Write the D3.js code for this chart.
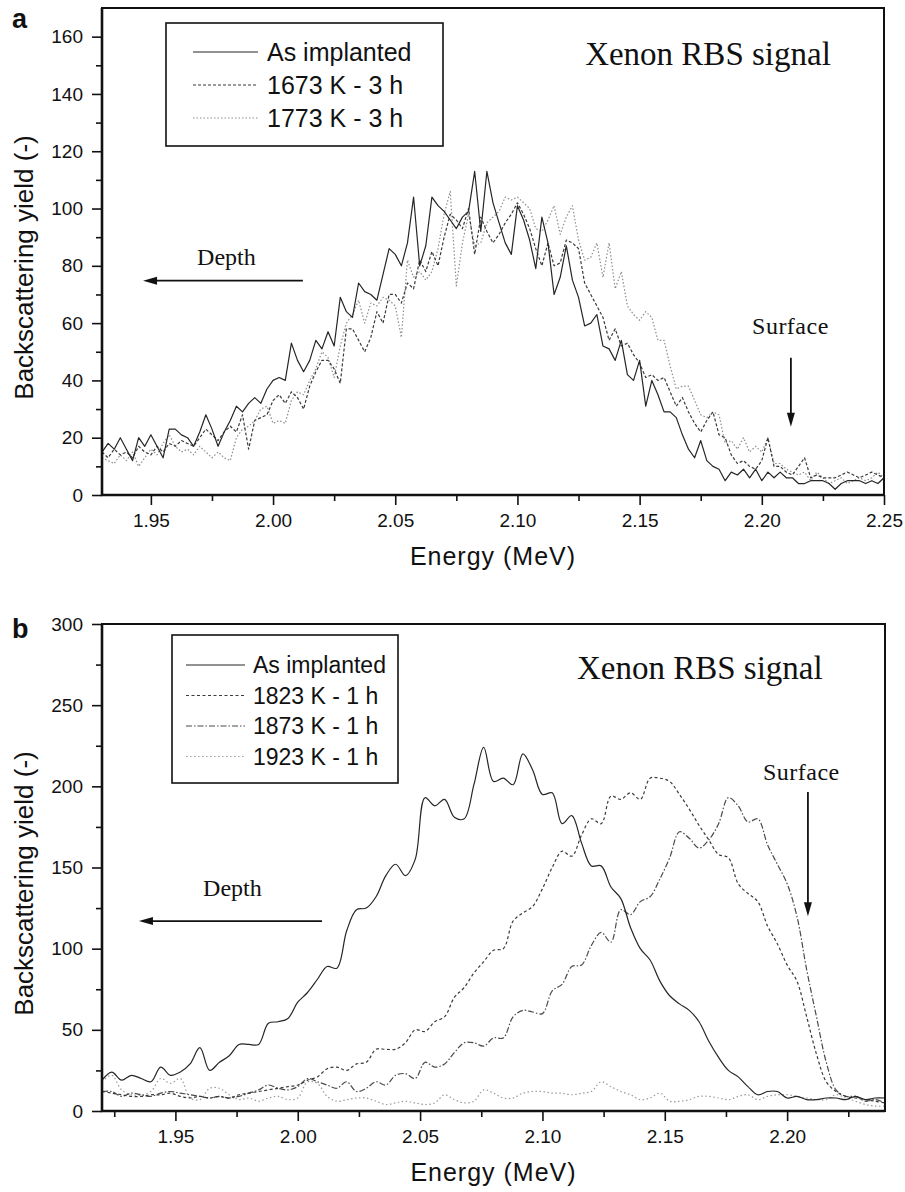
<!DOCTYPE html>
<html>
<head>
<meta charset="utf-8">
<script src="https://cdn.jsdelivr.net/npm/d3@7"></script>
<style>
  html, body { margin: 0; padding: 0; background: #fff; }
  svg { display: block; }
</style>
</head>
<body>
<svg id="chart" width="905" height="1192"></svg>
<script>
// ---- panel a : channels 1.93 .. 2.25 MeV, 0.0025 MeV apart ----
const energyA = d3.range(129).map(i => +(1.93 + i * 0.0025).toFixed(4));

const implantedA = [
  15, 18, 16, 20, 16, 12, 20, 17, 21, 17,
  13, 23, 23, 21, 20, 17, 22, 28, 23, 17,
  22, 26, 31, 29, 32, 34, 32, 37, 40, 41,
  40, 53, 47, 43, 47, 54, 51, 57, 52, 69,
  64, 62, 74, 71, 70, 68, 77, 86, 84, 80,
  88, 104, 80, 87, 104, 101, 99, 96, 93, 97,
  99, 113, 92, 113, 102, 95, 88, 84, 101, 96,
  89, 79, 97, 88, 70, 76, 87, 75, 69, 59,
  60, 63, 52, 51, 47, 54, 42, 40, 47, 31,
  40, 35, 29, 29, 27, 21, 16, 13, 19, 12,
  10, 9, 5, 8, 7, 9, 6, 9, 5, 8,
  6, 8, 6, 6, 4, 4, 5, 5, 5, 4,
  2, 4, 5, 5, 5, 4, 5, 4, 6
];
const k1673 = [
  15, 13, 16, 14, 15, 13, 17, 15, 14, 17,
  15, 18, 17, 19, 18, 17, 20, 23, 21, 19,
  22, 24, 22, 28, 16, 26, 27, 28, 33, 35,
  32, 36, 34, 30, 38, 43, 47, 47, 44, 39,
  58, 58, 54, 50, 55, 64, 60, 70, 70, 67,
  74, 72, 82, 78, 85, 80, 90, 98, 96, 93,
  100, 84, 97, 92, 88, 91, 95, 98, 102, 98,
  93, 86, 80, 88, 80, 81, 89, 88, 86, 74,
  70, 66, 62, 54, 58, 52, 53, 49, 46, 41,
  42, 40, 41, 36, 31, 34, 29, 25, 22, 26,
  29, 21, 20, 14, 11, 12, 10, 9, 12, 20,
  10, 10, 8, 7, 10, 13, 6, 7, 6, 6,
  6, 7, 8, 7, 6, 7, 8, 7, 6
];
const k1773 = [
  13, 12, 11, 14, 12, 15, 10, 13, 16, 14,
  18, 21, 17, 15, 16, 14, 17, 15, 13, 15,
  13, 12, 20, 23, 24, 26, 30, 31, 25, 26,
  25, 33, 36, 35, 40, 44, 50, 48, 41, 52,
  60, 63, 68, 60, 67, 66, 69, 68, 66, 55,
  82, 76, 78, 75, 78, 86, 98, 106, 73, 88,
  98, 87, 88, 95, 97, 99, 104, 103, 104, 102,
  100, 93, 92, 96, 101, 91, 97, 101, 89, 82,
  83, 88, 76, 88, 72, 78, 66, 63, 61, 64,
  62, 54, 54, 45, 37, 38, 38, 33, 28, 27,
  29, 28, 18, 19, 16, 20, 15, 17, 15, 20,
  11, 11, 9, 8, 7, 8, 5, 8, 6, 4,
  5, 6, 4, 5, 6, 5, 6, 8, 6
];

// ---- panel b : channels 1.92 .. 2.24 MeV, 0.004 MeV apart ----
const energyB = d3.range(81).map(i => +(1.92 + i * 0.004).toFixed(4));

const implantedB = [
  19, 24, 19, 22, 20, 18, 27, 22, 24, 29,
  39, 25, 30, 34, 41, 41, 41, 54, 55, 57,
  67, 73, 81, 89, 88, 111, 124, 125, 132, 145,
  152, 145, 155, 193, 188, 192, 181, 180, 201, 224,
  203, 205, 201, 220, 210, 195, 196, 177, 182, 165,
  151, 151, 138, 131, 113, 100, 93, 80, 71, 66,
  62, 55, 43, 33, 25, 21, 15, 10, 12, 12,
  8, 9, 7, 7, 8, 8, 7, 9, 7, 8, 8
];
const k1823 = [
  12, 11, 10, 9, 9, 10, 10, 11, 9, 8,
  9, 8, 9, 8, 10, 11, 12, 13, 14, 15,
  16, 19, 21, 26, 27, 25, 29, 30, 38, 38,
  38, 42, 50, 49, 55, 58, 70, 76, 85, 92,
  99, 100, 117, 122, 126, 137, 150, 160, 157, 170,
  180, 177, 194, 192, 196, 192, 205, 205, 203, 195,
  186, 176, 167, 158, 156, 140, 134, 129, 114, 103,
  90, 80, 58, 35, 18, 12, 9, 8, 7, 6, 5
];
const k1873 = [
  12, 12, 9, 11, 10, 9, 11, 12, 11, 10,
  9, 8, 9, 8, 9, 11, 13, 16, 14, 13,
  15, 20, 18, 16, 14, 18, 12, 14, 18, 16,
  22, 23, 20, 30, 27, 29, 36, 42, 42, 40,
  45, 45, 58, 62, 61, 60, 74, 78, 89, 90,
  102, 110, 104, 124, 121, 129, 132, 143, 156, 172,
  168, 162, 167, 177, 193, 188, 178, 180, 164, 152,
  140, 120, 87, 58, 30, 13, 9, 9, 6, 7, 5
];
const k1923 = [
  18, 22, 13, 10, 10, 12, 20, 17, 20, 8,
  7, 14, 14, 10, 7, 8, 6, 8, 9, 7,
  8, 18, 17, 9, 6, 7, 8, 8, 6, 4,
  5, 6, 5, 4, 5, 10, 7, 5, 6, 13,
  11, 8, 8, 11, 12, 12, 11, 11, 10, 11,
  12, 18, 15, 12, 10, 7, 8, 11, 6, 6,
  7, 9, 9, 8, 7, 9, 10, 7, 9, 10,
  10, 9, 8, 7, 7, 10, 8, 6, 4, 3, 3
];

const xTicksA = [1.95, 2.00, 2.05, 2.10, 2.15, 2.20, 2.25];
const xMinorA = [1.975, 2.025, 2.075, 2.125, 2.175, 2.225];
const yTicksA = [0, 20, 40, 60, 80, 100, 120, 140, 160];
const yMinorA = [10, 30, 50, 70, 90, 110, 130, 150];

const xTicksB = [1.95, 2.00, 2.05, 2.10, 2.15, 2.20];
const xMinorB = [1.925, 1.975, 2.025, 2.075, 2.125, 2.175, 2.225];
const yTicksB = [0, 50, 100, 150, 200, 250, 300];
const yMinorB = [25, 75, 125, 175, 225, 275];

const SANS = '"Liberation Sans", Arial, Helvetica, sans-serif';
const SERIF = '"Liberation Serif", "Times New Roman", serif';

const svg = d3.select("#chart");
svg.append("rect").attr("width", 905).attr("height", 1192).attr("fill", "#fff");

function drawPanel(p) {
  const g = svg.append("g");
  const x = d3.scaleLinear().domain(p.xDomain).range([p.left, p.right]);
  const y = d3.scaleLinear().domain(p.yDomain).range([p.bottom, p.top]);

  g.append("clipPath").attr("id", "clip-" + p.id)
    .append("rect")
    .attr("x", p.left).attr("y", p.top)
    .attr("width", p.right - p.left).attr("height", p.bottom - p.top);

  // data lines
  const plot = g.append("g").attr("clip-path", `url(#clip-${p.id})`);
  p.series.slice().reverse().forEach(s => {
    const line = d3.line()
      .x((d, i) => x(p.energy[i]))
      .y(d => y(d))
      .curve(p.curve);
    plot.append("path")
      .datum(s.values)
      .attr("d", line)
      .attr("fill", "none")
      .attr("stroke", s.color)
      .attr("stroke-width", s.width)
      .attr("stroke-dasharray", s.dash)
      .attr("stroke-linejoin", "round");
  });

  // axes
  const styleAxis = sel => {
    sel.select(".domain").remove();
    sel.attr("font-family", SANS).attr("font-size", 19).attr("color", "#111");
    sel.selectAll(".tick line").attr("stroke-width", 1.6);
  };
  g.append("g").attr("transform", `translate(0,${p.bottom})`)
    .call(d3.axisBottom(x).tickValues(p.xTicks).tickSize(10).tickPadding(9).tickFormat(d3.format(".2f")))
    .call(styleAxis);
  g.append("g").attr("transform", `translate(0,${p.bottom})`)
    .call(d3.axisBottom(x).tickValues(p.xMinor).tickSize(6).tickFormat(""))
    .call(styleAxis);
  g.append("g").attr("transform", `translate(${p.left},0)`)
    .call(d3.axisLeft(y).tickValues(p.yTicks).tickSize(10).tickPadding(9).tickFormat(d3.format("d")))
    .call(styleAxis);
  g.append("g").attr("transform", `translate(${p.left},0)`)
    .call(d3.axisLeft(y).tickValues(p.yMinor).tickSize(6).tickFormat(""))
    .call(styleAxis);

  // frame
  g.append("rect")
    .attr("x", p.left).attr("y", p.top)
    .attr("width", p.right - p.left).attr("height", p.bottom - p.top)
    .attr("fill", "none").attr("stroke", "#111").attr("stroke-width", 2);
  g.append("path")
    .attr("d", `M${p.left},${p.top}V${p.bottom}H${p.right}`)
    .attr("fill", "none").attr("stroke", "#111").attr("stroke-width", 2.6);

  // axis titles + panel letter
  g.append("text")
    .attr("x", (p.left + p.right) / 2).attr("y", p.bottom + 70)
    .attr("text-anchor", "middle")
    .attr("font-family", SANS).attr("font-size", 25).attr("letter-spacing", 1)
    .attr("fill", "#111")
    .text("Energy (MeV)");
  g.append("text")
    .attr("transform", `translate(33,${(p.top + p.bottom) / 2 + 16}) rotate(-90)`)
    .attr("text-anchor", "middle")
    .attr("font-family", SANS).attr("font-size", 26)
    .attr("fill", "#111")
    .text("Backscattering yield (-)");
  g.append("text")
    .attr("x", 12).attr("y", p.top + p.letterDy)
    .attr("font-family", SANS).attr("font-size", 27).attr("font-weight", "bold")
    .attr("fill", "#111")
    .text(p.id);

  // legend
  const L = p.legend;
  const lg = g.append("g").attr("transform", `translate(${p.left + L.dx},${p.top + L.dy})`);
  lg.append("rect")
    .attr("width", L.w).attr("height", L.h)
    .attr("fill", "#fff").attr("stroke", "#111").attr("stroke-width", 1.6);
  p.series.forEach((s, i) => {
    const ry = L.row0 + i * L.rowGap;
    lg.append("line")
      .attr("x1", L.lineX0).attr("x2", L.lineX1)
      .attr("y1", ry).attr("y2", ry)
      .attr("stroke", s.color).attr("stroke-width", s.width)
      .attr("stroke-dasharray", s.dash);
    lg.append("text")
      .attr("x", L.textX).attr("y", ry + L.fontSize * 0.35)
      .attr("font-family", SANS).attr("font-size", L.fontSize)
      .attr("fill", "#111")
      .text(s.name);
  });

  // annotations in data units
  const A = p.notes;
  g.append("text")
    .attr("x", x(A.title[0])).attr("y", y(A.title[1]))
    .attr("font-family", SERIF).attr("font-size", 33).attr("fill", "#111")
    .text("Xenon RBS signal");
  g.append("text")
    .attr("x", x(A.depthText[0])).attr("y", y(A.depthText[1]))
    .attr("font-family", SERIF).attr("font-size", 24).attr("fill", "#111")
    .text("Depth");
  g.append("text")
    .attr("x", x(A.surfText[0])).attr("y", y(A.surfText[1]))
    .attr("font-family", SERIF).attr("font-size", 24).attr("letter-spacing", 0.5).attr("fill", "#111")
    .text("Surface");

  // depth arrow (points left)
  const dx0 = x(A.depthArrow[0]), dx1 = x(A.depthArrow[1]), dy = y(A.depthArrow[2]);
  g.append("line").attr("x1", dx0).attr("x2", dx1 + 12).attr("y1", dy).attr("y2", dy)
    .attr("stroke", "#111").attr("stroke-width", 1.8);
  g.append("path").attr("d", `M${dx1},${dy}L${dx1 + 14},${dy - 4}L${dx1 + 14},${dy + 4}Z`).attr("fill", "#111");

  // surface arrow (points down)
  const sx = x(A.surfArrow[0]), sy0 = y(A.surfArrow[1]), sy1 = y(A.surfArrow[2]);
  g.append("line").attr("x1", sx).attr("x2", sx).attr("y1", sy0).attr("y2", sy1 - 12)
    .attr("stroke", "#111").attr("stroke-width", 1.8);
  g.append("path").attr("d", `M${sx},${sy1}L${sx - 4},${sy1 - 14}L${sx + 4},${sy1 - 14}Z`).attr("fill", "#111");
}

drawPanel({
  id: "a",
  left: 102, right: 884, top: 8, bottom: 495,
  xDomain: [1.93, 2.25], yDomain: [0, 170],
  xTicks: xTicksA, xMinor: xMinorA, yTicks: yTicksA, yMinor: yMinorA,
  energy: energyA,
  curve: d3.curveLinear,
  letterDy: 20,
  series: [
    { name: "As implanted", values: implantedA, color: "#262626", width: 1.2, dash: null },
    { name: "1673 K - 3 h", values: k1673, color: "#3a3a3a", width: 1.2, dash: "3,2" },
    { name: "1773 K - 3 h", values: k1773, color: "#8c8c8c", width: 1.2, dash: "1.5,2" }
  ],
  legend: { dx: 64, dy: 15, w: 277, h: 123, row0: 29, rowGap: 33, lineX0: 27, lineX1: 92, textX: 101, fontSize: 25 },
  notes: {
    title: [2.1277, 150.2],
    depthText: [1.9689, 80.3],
    depthArrow: [2.0122, 1.9468, 74.8],
    surfText: [2.196, 56.2],
    surfArrow: [2.2119, 47.9, 23.8]
  }
});

drawPanel({
  id: "b",
  left: 102, right: 885, top: 624, bottom: 1111,
  xDomain: [1.92, 2.24], yDomain: [0, 300],
  xTicks: xTicksB, xMinor: xMinorB, yTicks: yTicksB, yMinor: yMinorB,
  energy: energyB,
  curve: d3.curveCatmullRom.alpha(0.5),
  letterDy: 14,
  series: [
    { name: "As implanted", values: implantedB, color: "#262626", width: 1.2, dash: null },
    { name: "1823 K - 1 h", values: k1823, color: "#3a3a3a", width: 1.2, dash: "3,2.5" },
    { name: "1873 K - 1 h", values: k1873, color: "#4a4a4a", width: 1.2, dash: "6,2,1.5,2" },
    { name: "1923 K - 1 h", values: k1923, color: "#9a9a9a", width: 1.2, dash: "1.5,2.5" }
  ],
  legend: { dx: 70, dy: 11, w: 226, h: 148, row0: 30, rowGap: 30.5, lineX0: 14, lineX1: 73, textX: 81, fontSize: 23 },
  notes: {
    title: [2.1141, 266.1],
    depthText: [1.9613, 132.4],
    depthArrow: [2.0099, 1.9351, 117],
    surfText: [2.1901, 203.9],
    surfArrow: [2.2085, 196.5, 120]
  }
});
</script>
</body>
</html>
